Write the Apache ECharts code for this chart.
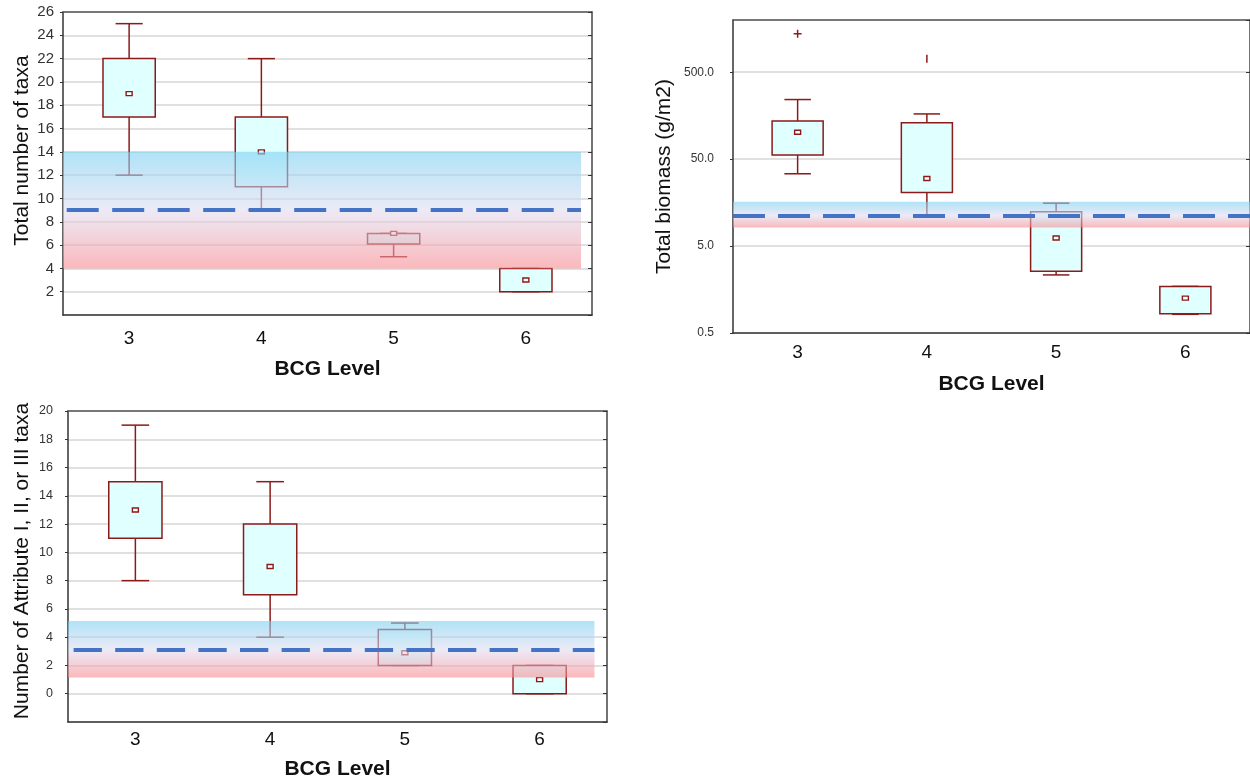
<!DOCTYPE html>
<html>
<head>
<meta charset="utf-8">
<title>BCG level box plots</title>
<script src="https://cdn.jsdelivr.net/npm/echarts@6/dist/echarts.min.js"></script>
<style>
  html, body { margin: 0; padding: 0; background: #fff; }
  #chart { width: 1250px; height: 782px; }
</style>
</head>
<body>
<div id="chart"></div>
<script>
const levels = ['3', '4', '5', '6']

// Total number of taxa
const taxaMin = [12, 9, 5, 2]
const taxaQ1 = [17, 11, 6.1, 2]
const taxaMedian = [19, 14, 7, 3]
const taxaQ3 = [22, 17, 7, 4]
const taxaMax = [25, 22, 7, 4]
const taxaBand = [4, 9, 14] // lower, threshold, upper

// Total biomass (g/m2)
const biomassMin = [34, 11.2, 2.33, 0.82]
const biomassQ1 = [56, 20.7, 2.56, 0.83]
const biomassMedian = [102, 30, 6.2, 1.26]
const biomassQ3 = [138, 131, 12.4, 1.72]
const biomassMax = [243, 166, 15.6, 1.72]
const biomassOutlierLevel = [0, 1]
const biomassOutlierValue = [1390, 718]
const biomassBand = [8.2, 11.2, 16.2]

// Number of Attribute I, II, or III taxa
const attrMin = [8, 4, 2, 0]
const attrQ1 = [11, 7, 2, 0]
const attrMedian = [13, 9, 2.9, 1]
const attrQ3 = [15, 12, 4.55, 2]
const attrMax = [19, 15, 5, 2]
const attrBand = [1.15, 3.1, 5.15]

const FONT = 'Liberation Sans, Arial, sans-serif'
const BOX_EDGE = '#8b1a1a'
const BOX_FILL = '#e0ffff'

function boxData(mins, q1s, meds, q3s, maxs) {
  return mins.map((v, i) => [i, v, q1s[i], meds[i], q3s[i], maxs[i]])
}

// Statistica-style box: whiskers with short caps, small square for the median
function renderBox(params, api) {
  const cat = api.value(0)
  const lo = api.coord([cat, api.value(1)])
  const q1 = api.coord([cat, api.value(2)])
  const md = api.coord([cat, api.value(3)])
  const q3 = api.coord([cat, api.value(4)])
  const hi = api.coord([cat, api.value(5)])
  const band = Math.abs(api.coord([1, api.value(3)])[0] - api.coord([0, api.value(3)])[0])
  const x = md[0]
  const bw = band * 0.395
  const cw = band * 0.205
  const line = { stroke: BOX_EDGE, lineWidth: 1.5 }
  return {
    type: 'group',
    children: [
      { type: 'line', shape: { x1: x, y1: lo[1], x2: x, y2: q1[1] }, style: line },
      { type: 'line', shape: { x1: x, y1: q3[1], x2: x, y2: hi[1] }, style: line },
      { type: 'line', shape: { x1: x - cw / 2, y1: lo[1], x2: x + cw / 2, y2: lo[1] }, style: line },
      { type: 'line', shape: { x1: x - cw / 2, y1: hi[1], x2: x + cw / 2, y2: hi[1] }, style: line },
      {
        type: 'rect',
        shape: { x: x - bw / 2, y: q3[1], width: bw, height: q1[1] - q3[1] },
        style: { fill: BOX_FILL, stroke: BOX_EDGE, lineWidth: 1.5 }
      },
      {
        type: 'rect',
        shape: { x: x - 3, y: md[1] - 2, width: 6, height: 4 },
        style: { fill: '#fff', stroke: BOX_EDGE, lineWidth: 1.4 }
      }
    ]
  }
}

const outlierGlyph = ['+', '|']
function renderOutlier(params, api) {
  const p = api.coord([api.value(0), api.value(1)])
  const style = { stroke: BOX_EDGE, lineWidth: 1.5 }
  const children = [
    { type: 'line', shape: { x1: p[0], y1: p[1] - 4, x2: p[0], y2: p[1] + 4 }, style }
  ]
  if (outlierGlyph[params.dataIndex] === '+') {
    children.push({ type: 'line', shape: { x1: p[0] - 4, y1: p[1], x2: p[0] + 4, y2: p[1] }, style })
  }
  return { type: 'group', children }
}

function bandGradient(lower, mid, upper, isLog) {
  const f = isLog ? Math.log10(upper / mid) / Math.log10(upper / lower) : (upper - mid) / (upper - lower)
  return new echarts.graphic.LinearGradient(0, 0, 0, 1, [
    { offset: 0, color: 'rgba(123, 208, 242, 0.6)' },
    { offset: f, color: 'rgba(223, 220, 240, 0.6)' },
    { offset: 1, color: 'rgba(248, 137, 142, 0.6)' }
  ])
}

const grids = [
  { left: 63, top: 12, width: 529, height: 303 },
  { left: 733, top: 20, width: 518, height: 313 },
  { left: 68, top: 411, width: 539, height: 311 }
]

// per-panel axis settings
const panels = [
  {
    title: 'Total number of taxa', titleGap: 30, titlePad: [0, 0, 0, 26],
    y: { type: 'value', min: 0, max: 26, interval: 2 }, showMin: false, showMax: true,
    labelSize: 15, labelMargin: 9, xMargin: 14, nameGap: 44, bandEnd: 6.417,
    band: taxaBand, dash: [32, 13.5], dashOffset: 41.8
  },
  {
    title: 'Total biomass (g/m2)', titleGap: 58, titlePad: [0, 0, 0, 0],
    y: { type: 'log', logBase: 10, min: 0.5, max: 2000, interval: 1 }, showMin: true, showMax: false,
    labelSize: 12, labelMargin: 19, xMargin: 10, nameGap: 41, bandEnd: 6.5,
    band: biomassBand, dash: [32, 13], dashOffset: 0
  },
  {
    title: 'Number of Attribute I, II, or III taxa', titleGap: 35, titlePad: [0, 0, 0, 11],
    y: { type: 'value', min: -2, max: 20, interval: 2 }, showMin: false, showMax: true,
    labelSize: 12.5, labelMargin: 15, xMargin: 8, nameGap: 37, bandEnd: 6.407,
    band: attrBand, dash: [28.3, 13.3], dashOffset: 36
  }
]

const xAxes = []
const yAxes = []
panels.forEach((p, g) => {
  xAxes.push({
    gridIndex: g, type: 'category', data: levels, boundaryGap: true,
    axisLine: { onZero: false, lineStyle: { color: '#333', width: 1.5 } },
    axisTick: { alignWithLabel: true, length: 3, lineStyle: { color: '#333' } },
    axisLabel: { fontSize: 19, color: '#111', fontFamily: FONT, margin: p.xMargin },
    name: 'BCG Level', nameLocation: 'middle', nameGap: p.nameGap,
    nameTextStyle: { fontSize: 21, fontWeight: 'bold', color: '#111', fontFamily: FONT }
  })
  xAxes.push({
    gridIndex: g, type: 'category', data: levels, position: 'top', boundaryGap: true,
    axisLine: { onZero: false, lineStyle: { color: '#555', width: 1.5 } },
    axisTick: { alignWithLabel: true, inside: true, length: 3, lineStyle: { color: '#333' } },
    axisLabel: { show: false }
  })
  xAxes.push({ gridIndex: g, type: 'value', min: 2.5, max: 6.5, show: false })

  yAxes.push(Object.assign({
    gridIndex: g,
    axisLine: { show: true, onZero: false, lineStyle: { color: '#333', width: 1.5 } },
    axisTick: { show: true, length: 3, lineStyle: { color: '#333' } },
    axisLabel: {
      fontSize: p.labelSize, color: '#333', fontFamily: FONT, margin: p.labelMargin,
      showMinLabel: p.showMin, showMaxLabel: p.showMax,
      formatter: p.y.type === 'log' ? v => Number(v.toPrecision(1)).toFixed(1) : null
    },
    splitLine: { show: true, lineStyle: { color: '#d6d6d6', width: 1.5 } },
    name: p.title, nameLocation: 'middle', nameGap: p.titleGap,
    nameTextStyle: { fontSize: 21, color: '#111', fontFamily: FONT, padding: p.titlePad }
  }, p.y))
  yAxes.push(Object.assign({
    gridIndex: g, position: 'right',
    axisLine: { show: true, onZero: false, lineStyle: { color: '#444', width: 1.5 } },
    axisTick: { show: true, inside: true, length: 4, lineStyle: { color: '#333' } },
    axisLabel: { show: false },
    splitLine: { show: false }
  }, p.y))
})

const boxes = [
  boxData(taxaMin, taxaQ1, taxaMedian, taxaQ3, taxaMax),
  boxData(biomassMin, biomassQ1, biomassMedian, biomassQ3, biomassMax),
  boxData(attrMin, attrQ1, attrMedian, attrQ3, attrMax)
]

const series = []
panels.forEach((p, g) => {
  const [lower, mid, upper] = p.band
  series.push({
    type: 'custom', xAxisIndex: 3 * g, yAxisIndex: 2 * g, z: 2,
    renderItem: renderBox, encode: { x: 0, y: [1, 2, 3, 4, 5] },
    data: boxes[g], silent: true
  })
  // translucent reference band, drawn over the boxes
  series.push({
    type: 'line', xAxisIndex: 3 * g + 2, yAxisIndex: 2 * g, z: 5,
    data: [[2.5, mid]], showSymbol: false, silent: true,
    markArea: {
      silent: true, z: 5, label: { show: false },
      itemStyle: { color: bandGradient(lower, mid, upper, p.y.type === 'log') },
      data: [[{ coord: [2.5, upper] }, { coord: [p.bandEnd, lower] }]]
    }
  })
  series.push({
    type: 'line', xAxisIndex: 3 * g + 2, yAxisIndex: 2 * g, z: 6,
    data: [[2.5, mid]], showSymbol: false, silent: true,
    markLine: {
      silent: true, z: 6, symbol: 'none', label: { show: false },
      lineStyle: { color: '#4472c4', width: 4, type: p.dash, dashOffset: p.dashOffset },
      data: [[{ coord: [2.5, mid] }, { coord: [p.bandEnd, mid] }]]
    }
  })
})

series.push({
  type: 'custom', xAxisIndex: 3, yAxisIndex: 2, z: 3,
  renderItem: renderOutlier, encode: { x: 0, y: 1 },
  data: biomassOutlierLevel.map((c, i) => [c, biomassOutlierValue[i]]), silent: true
})

const chart = echarts.init(document.getElementById('chart'))
chart.setOption({
  animation: false,
  backgroundColor: '#fff',
  textStyle: { fontFamily: FONT },
  grid: grids,
  xAxis: xAxes,
  yAxis: yAxes,
  series
})
</script>
</body>
</html>
